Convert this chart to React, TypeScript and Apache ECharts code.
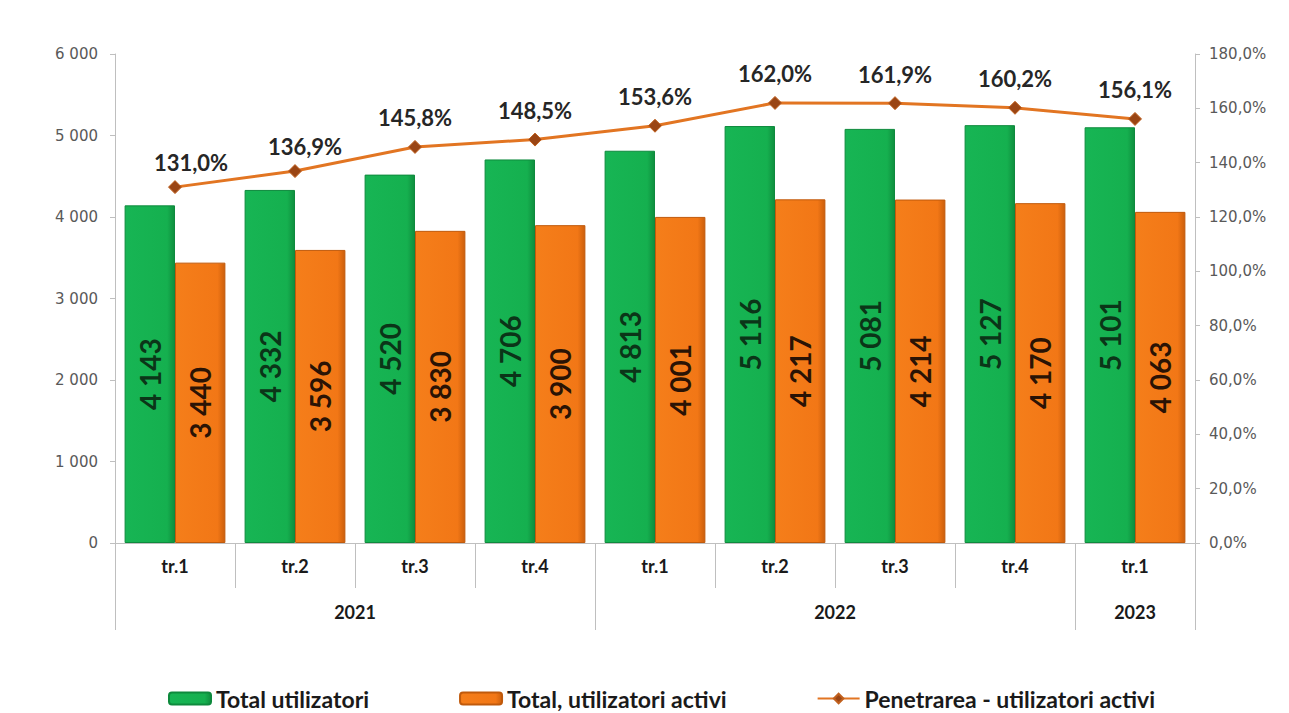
import React, { useEffect, useRef } from "react";
import * as echarts from "echarts";

const quarters = ["tr.1", "tr.2", "tr.3", "tr.4", "tr.1", "tr.2", "tr.3", "tr.4", "tr.1"];
const years = ["2021", "2022", "2023"];
const yearSpans = [4, 4, 1];
const totalUsers = [4143, 4332, 4520, 4706, 4813, 5116, 5081, 5127, 5101];
const activeUsers = [3440, 3596, 3830, 3900, 4001, 4217, 4214, 4170, 4063];
const penetration = [131.0, 136.9, 145.8, 148.5, 153.6, 162.0, 161.9, 160.2, 156.1];
const leftTicks = { min: 0, max: 6000, interval: 1000 };
const rightTicks = { min: 0, max: 180, interval: 20 };

const fmtNum = (v: number) => String(Math.round(v)).replace(/\B(?=(\d{3})+(?!\d))/g, " ");
const fmtPct = (v: number) => v.toFixed(1).replace(".", ",") + "%";

export default function App() {
  const ref = useRef<HTMLDivElement>(null);
  useEffect(() => {
    if (!ref.current) return;
    const chart = echarts.init(ref.current, undefined, { renderer: "svg" });

    // half-category points for the year row
    const nHalf = quarters.length * 2 + 1;
    const yearAxisData: string[] = [];
    for (let j = 0; j < nHalf; j++) yearAxisData.push(" ".repeat(j + 1));
    const yearLabelIdx: number[] = [];
    const yearTickIdx: number[] = [0];
    let pos = 0;
    years.forEach((y, i) => {
      const center = pos * 2 + yearSpans[i];
      yearAxisData[center] = y;
      yearLabelIdx.push(center);
      pos += yearSpans[i];
      yearTickIdx.push(pos * 2);
    });

    const axisGray = "#BFBFBF";
    const labelGray = "#595959";
    const font = "Lato, 'Open Sans', sans-serif";
    const axisFont = "'DejaVu Sans', Verdana, sans-serif";

    chart.setOption({
      animation: false,
      backgroundColor: "#ffffff",
      grid: { left: 115, right: 94, top: 54, bottom: 170 },
      legend: {
        top: 682,
        left: 163,
        itemGap: 90,
        itemWidth: 42,
        itemHeight: 12,
        textStyle: { fontFamily: font, fontSize: 23, fontWeight: "bold", color: "#1a1a1a" },
        data: ["Total utilizatori", "Total, utilizatori activi", "Penetrarea - utilizatori activi"],
      },
      xAxis: [
        {
          type: "category",
          data: quarters,
          position: "bottom",
          axisLine: { lineStyle: { color: axisGray } },
          axisTick: { show: false },
          axisLabel: { margin: 14, fontFamily: font, fontSize: 18, fontWeight: "bold", color: "#1a1a1a" },
        },
        {
          type: "category",
          data: yearAxisData,
          boundaryGap: false,
          position: "bottom",
          offset: 45,
          axisLine: { show: false },
          axisTick: { show: false },
          axisLabel: {
            margin: 15,
            fontFamily: font,
            fontSize: 18,
            fontWeight: "bold",
            color: "#1a1a1a",
            interval: (i: number) => yearLabelIdx.includes(i),
          },
        },
      ],
      yAxis: [
        {
          type: "value",
          ...leftTicks,
          axisLine: { show: true, lineStyle: { color: axisGray } },
          axisTick: { show: true, length: 5, lineStyle: { color: axisGray } },
          splitLine: { show: false },
          axisLabel: { fontFamily: axisFont, fontSize: 15, color: labelGray, formatter: fmtNum, margin: 17 },
        },
        {
          type: "value",
          ...rightTicks,
          position: "right",
          axisLine: { show: true, lineStyle: { color: axisGray } },
          axisTick: { show: true, length: 5, lineStyle: { color: axisGray } },
          splitLine: { show: false },
          axisLabel: { fontFamily: axisFont, fontSize: 15, color: labelGray, formatter: (v: number) => fmtPct(v), margin: 14 },
        },
      ],
      series: [
        {
          name: "Total utilizatori",
          type: "bar",
          data: totalUsers,
          barGap: "0%",
          barCategoryGap: "16%",
          itemStyle: {
            color: new echarts.graphic.LinearGradient(0, 0, 1, 0, [
              { offset: 0, color: "#17B554" },
              { offset: 0.85, color: "#15B04F" },
              { offset: 1, color: "#0F8E3E" },
            ]),
            borderColor: "#0E8A3D",
            borderWidth: 1,
          },
          label: {
            show: true,
            position: "inside",
            rotate: 90,
            formatter: (p: any) => fmtNum(p.value),
            fontFamily: font,
            fontSize: 28,
            fontWeight: "bold",
            color: "#0B3518",
          },
        },
        {
          name: "Total, utilizatori activi",
          type: "bar",
          data: activeUsers,
          itemStyle: {
            color: new echarts.graphic.LinearGradient(0, 0, 1, 0, [
              { offset: 0, color: "#F57E1A" },
              { offset: 0.85, color: "#F27716" },
              { offset: 1, color: "#CC5F0C" },
            ]),
            borderColor: "#C05A0C",
            borderWidth: 1,
          },
          label: {
            show: true,
            position: "inside",
            rotate: 90,
            formatter: (p: any) => fmtNum(p.value),
            fontFamily: font,
            fontSize: 28,
            fontWeight: "bold",
            color: "#2A1305",
          },
        },
        {
          name: "Penetrarea - utilizatori activi",
          type: "line",
          yAxisIndex: 1,
          data: penetration.map((v, i) =>
            i < 2 ? { value: v, label: { offset: [i === 0 ? 16 : 10, -2] } } : v
          ),
          symbol: "diamond",
          symbolSize: 13,
          lineStyle: { color: "#E27522", width: 3 },
          itemStyle: { color: "#9A4514", borderColor: "#C0601E", borderWidth: 1 },
          label: {
            show: true,
            position: "top",
            offset: [0, -6],
            formatter: (p: any) => fmtPct(p.value),
            fontFamily: font,
            fontSize: 22,
            fontWeight: "bold",
            color: "#262626",
          },
        },
      ],
    });

    // category separators (quarter and year rows), placed with the axes' own scales
    const y0 = chart.convertToPixel({ yAxisIndex: 0 }, 0) as number;
    const sepLines: any[] = [];
    for (let j = 0; j < nHalf; j += 2) {
      const x = Math.round(chart.convertToPixel({ xAxisIndex: 1 }, j) as number) + 0.5;
      const isYear = yearTickIdx.includes(j);
      sepLines.push({
        type: "line",
        silent: true,
        shape: { x1: x, y1: y0, x2: x, y2: y0 + (isYear ? 87 : 45) },
        style: { stroke: axisGray, lineWidth: 1 },
      });
    }
    chart.setOption({ graphic: sepLines });

    return () => chart.dispose();
  }, []);
  return <div ref={ref} style={{ position: "fixed", left: 0, top: 0, width: 1289, height: 713 }} />;
}
